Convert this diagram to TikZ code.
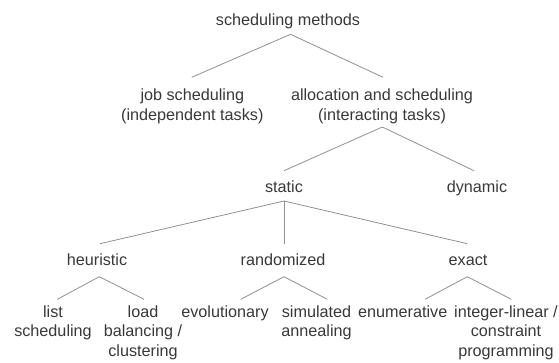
\documentclass[tikz,border=0pt]{standalone}
\usepackage{fontspec}
\setmainfont{Liberation Sans}
\definecolor{labelgray}{HTML}{383838}
\definecolor{edgegray}{HTML}{909090}
\begin{document}
\begin{tikzpicture}[x=1pt,y=1pt,
  lbl/.style={inner sep=0pt, outer sep=0pt, align=center, text=labelgray,
    font=\fontsize{16.2}{19.5}\selectfont},
  one/.style={lbl, anchor=base},
  multi/.style={lbl, anchor=north},
  edge/.style={draw=edgegray, line width=0.8pt}]
\useasboundingbox (0,0) rectangle (559,-362);

% single-line labels sit on their baseline, stacked labels hang from their top
\node[one]   (root)    at (288,-25.9)    {scheduling methods};
\node[multi] (job)     at (192.3,-89.1)  {job scheduling\\(independent tasks)};
\node[multi] (alloc)   at (382,-89.1)    {allocation and scheduling\\(interacting tasks)};
\node[one]   (static)  at (284,-192.8)   {static};
\node[one]   (dynamic) at (477,-192.5)   {dynamic};
\node[one]   (heur)    at (97,-265.2)    {heuristic};
\node[one]   (rand)    at (283,-265.2)   {randomized};
\node[one]   (exact)   at (468,-265.2)   {exact};
\node[multi] (list)    at (53,-305.7)    {list\\scheduling};
\node[multi] (load)    at (143,-305.7)   {load\\balancing /\\clustering};
\node[one]   (evol)    at (225,-317.5)   {evolutionary};
\node[multi] (sim)     at (316.5,-305.7) {simulated\\annealing};
\node[one]   (enum)    at (402.7,-317.5) {enumerative};
\node[multi] (ilp)     at (506,-305.7)   {integer-linear /\\constraint\\programming};

% tree edges
\draw[edge] ([shift={(2.5,-8.4)}]root.base) -- ([shift={(-0.6,11.8)}]job.north);
\draw[edge] ([shift={(2.5,-8.4)}]root.base) -- ([shift={(1,11.8)}]alloc.north);
\draw[edge] ([shift={(0.3,-37.9)}]alloc.north) -- ([shift={(0,22.1)}]static.base);
\draw[edge] ([shift={(0.3,-37.9)}]alloc.north) -- ([shift={(-3,21.8)}]dynamic.base);
\draw[edge] ([shift={(0,-8.2)}]static.base) -- ([shift={(3,21.5)}]heur.base);
\draw[edge] ([shift={(0,-8.2)}]static.base) -- ([shift={(1,21.5)}]rand.base);
\draw[edge] ([shift={(0,-8.2)}]static.base) -- ([shift={(-0.7,21.5)}]exact.base);
\draw[edge] ([shift={(2.3,-11.5)}]heur.base) -- ([shift={(4.3,6.4)}]list.north);
\draw[edge] ([shift={(2.3,-11.5)}]heur.base) -- ([shift={(1,6.4)}]load.north);
\draw[edge] ([shift={(1,-11.5)}]rand.base) -- ([shift={(15.7,18.2)}]evol.base);
\draw[edge] ([shift={(1,-11.5)}]rand.base) -- ([shift={(10.8,6.4)}]sim.north);
\draw[edge] ([shift={(-0.7,-11.5)}]exact.base) -- ([shift={(22.3,18.2)}]enum.base);
\draw[edge] ([shift={(-0.7,-11.5)}]exact.base) -- ([shift={(5.3,6.4)}]ilp.north);
\end{tikzpicture}
\end{document}
